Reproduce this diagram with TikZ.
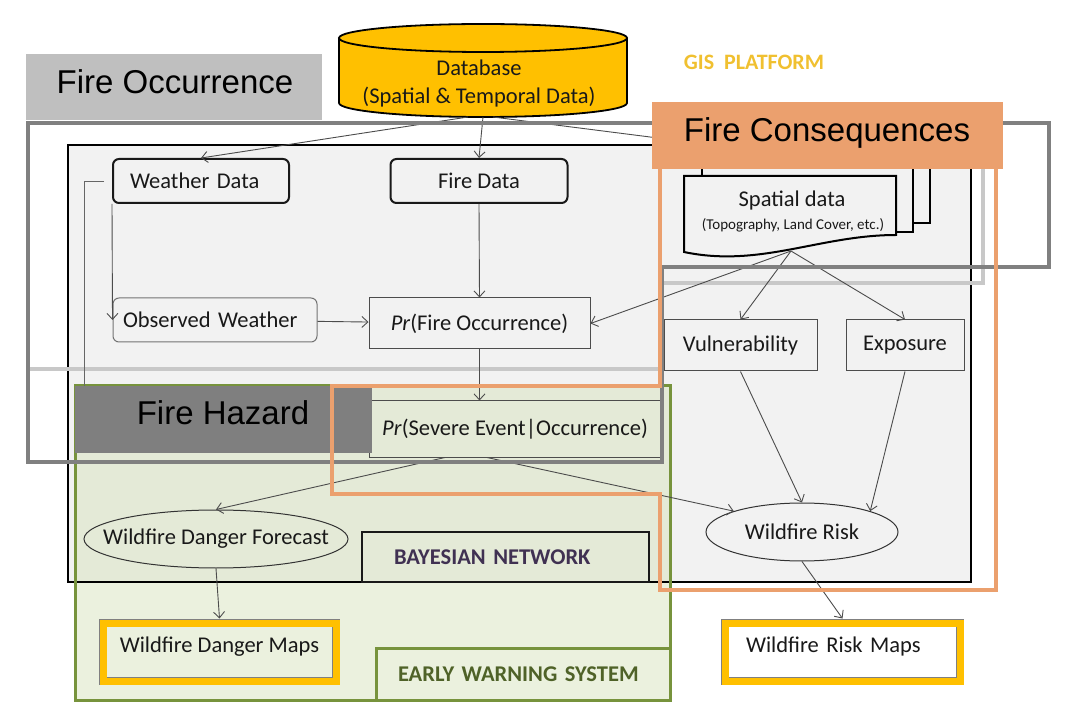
\documentclass[tikz,border=0pt]{standalone}
\usepackage{fontspec}
\setmainfont{Carlito}
\newfontfamily\headfont{Liberation Sans}
\usetikzlibrary{shapes.geometric,arrows.meta}

\definecolor{gold}{HTML}{FFC000}
\definecolor{gistext}{HTML}{F0C030}
\definecolor{occgray}{HTML}{BFBFBF}
\definecolor{hazgray}{HTML}{7F7F7F}
\definecolor{consorange}{HTML}{EBA06E}
\definecolor{occframe}{HTML}{808080}
\definecolor{lightframe}{HTML}{C8C8C8}
\definecolor{ewsgreen}{HTML}{77933C}
\definecolor{ewsfill}{HTML}{D7E4BD}
\definecolor{bnfill}{HTML}{F2F2F2}
\definecolor{ewstext}{HTML}{4F6228}
\definecolor{bntext}{HTML}{403152}

\begin{document}
\begin{tikzpicture}[x=1pt,y=-1pt,
  every node/.style={font=\fontsize{22.5}{27}\selectfont, text=black!90},
  rbox/.style={draw=black!90, line width=2pt, rounded corners=6pt, fill=bnfill, minimum height=44pt},
  obox/.style={draw=black!55, line width=1pt, rounded corners=6pt, fill=bnfill, minimum height=44pt},
  pbox/.style={draw=black!70, line width=1pt, fill=bnfill, minimum height=51pt},
  ebox/.style={draw=black!80, line width=1pt, ellipse, inner ysep=0pt},
  mapbox/.style={draw=black!50, line width=0.8pt, double=gold, double distance=7pt, outer sep=4.5pt, minimum height=58pt, text height=16pt, text depth=15pt},
  tagbox/.style={font=\bfseries\fontsize{22.5}{26}\selectfont, align=left, minimum height=50pt},
  head/.style={font=\headfont\fontsize{33}{38}\selectfont, text=black, text height=23.5pt, text depth=6.5pt},
  page/.style={fill=bnfill, draw=black, line width=2pt},
  edge/.style={draw=black!70, line width=0.9pt, -{Straight Barb[length=6pt,width=11pt]}},
]
\useasboundingbox (0,0) rectangle (1069,711);

% bayesian network and early warning areas
\fill[bnfill] (68,145) rectangle (971,582);
\fill[ewsfill, fill opacity=0.5] (75,386) rectangle (670,700);
\draw[line width=1.5pt] (68,145) rectangle (971,582);
\draw[ewsgreen, line width=3pt] (75,386) rectangle (670,700);
\node[tagbox, draw=black!90, line width=1.5pt, text=bntext, text width=223pt, inner xsep=32pt] (bn) at (505.5,557) {BAYESIAN NETWORK};
\node[tagbox, draw=ewsgreen, line width=3pt, text=ewstext, text width=250pt, inner xsep=22pt, minimum height=52pt] (ews) at (523,674) {EARLY WARNING SYSTEM};

% light gray frame
\draw[lightframe, line width=3.5pt] (28,123) -- (983,123) -- (983,283) -- (660,283) -- (660,369) -- (28,369) -- cycle;

% database
\filldraw[fill=gold, line width=1.8pt] (339,38) -- (339,103) arc[start angle=180, end angle=0, x radius=144, y radius=14] -- (627,38);
\filldraw[fill=gold, line width=1.8pt] (483,38) ellipse[x radius=144, y radius=14];
\node[align=center, font=\fontsize{22.5}{28}\selectfont] (db) at (479,84) {Database\\(Spatial \& Temporal Data)};
\coordinate (dbout) at (483,117);

% spatial data pages
\draw[page] (720,140) rectangle (930,223);
\draw[page] (702,150) rectangle (913,232);
\draw[page] (684,176) -- (896,176) -- (896,235) .. controls (820,235) and (760,268) .. (684,252) -- cycle;
\node (sd) at (792,201) {Spatial data};
\node[font=\fontsize{15}{18}\selectfont] (sdnote) at (793,225) {(Topography, Land Cover, etc.)};
\coordinate (sdout) at (791,251);
\coordinate (sdtop) at (760,151);

% nodes
\node[rbox, text width=142pt, inner xsep=17pt] (wd) at (201,181) {Weather Data};
\node[rbox, minimum width=177pt] (fd) at (479,181) {Fire Data};
\node[obox, text width=184pt, inner xsep=10pt] (ow) at (215,320) {Observed Weather};
\node[pbox, minimum width=221pt] (pf) at (479.5,323.5) {\textit{Pr}(Fire Occurrence)};
\node[pbox, fill=none, minimum width=292pt, minimum height=56pt] (ps) at (515,429) {\textit{Pr}(Severe Event|Occurrence)};
\node[pbox, minimum width=153pt] (vul) at (740.5,345.5) {Vulnerability};
\node[pbox, minimum width=118pt] (exp) at (905,345.5) {Exposure};
\node[ebox, inner xsep=-25pt, minimum width=264pt, minimum height=58pt] (wdf) at (216,539) {Wildfire Danger Forecast};
\node[ebox, fill=bnfill, minimum width=192pt, minimum height=58pt] (wr) at (802,532) {Wildfire Risk};
\node[mapbox, minimum width=233pt] (wdm) at (219.5,652) {Wildfire Danger Maps};
\node[mapbox, fill=white, text width=193pt, inner xsep=21pt] (wrm) at (842.5,652) {Wildfire Risk Maps};
\coordinate (wdside) at (84,400);

% edges
\draw[edge] ([xshift=-15pt]dbout) -- (wd.north);
\draw[edge] (dbout) -- (fd.north);
\draw[edge] ([xshift=10pt]dbout) -- (sdtop);
\draw[black!60, line width=0.9pt] ([xshift=-8pt]wd.west) -| (wdside);
\draw[edge] (wd.south west) -- (ow.west);
\draw[edge] (ow) -- (pf);
\draw[edge] (fd.south) -- (pf.north);
\draw[edge] (sdout) -- (pf.east);
\draw[edge] (sdout) -- (vul.north);
\draw[edge] (sdout) -- (exp.north);
\draw[edge] (pf.south) -- (pf.south |- ps.north);
\draw[edge] ([xshift=-70pt]ps.south) -- (wdf.north);
\draw[edge] ([xshift=-28pt]ps.south) -- (wr.163);
\draw[edge] (vul.south) -- (wr.north);
\draw[edge] (exp.south) -- (wr.17);
\draw[edge] (wdf.south) -- (wdm.north);
\draw[edge] (wr.south) -- (wrm.north);

% fire occurrence frame
\draw[occframe, line width=4.5pt] (28,123) -- (1049,123) -- (1049,267) -- (662,267) -- (662,462) -- (28,462) -- cycle;

% labels
\fill[occgray] (26,54) rectangle (322,120);
\node[head] (occ) at (175,85) {Fire Occurrence};
\fill[hazgray] (75,386) rectangle (372,453);
\node[head] (haz) at (223,416) {Fire Hazard};
\draw[consorange, line width=4pt] (660,169) -- (660,386) -- (332,386) -- (332,494) -- (660,494) -- (660,590) -- (996,590) -- (996,169);
\fill[consorange] (652,102) rectangle (1003,169);
\node[head] (cons) at (827,133) {Fire Consequences};
\node[font=\bfseries\fontsize{22}{26}\selectfont, text=gistext] (gis) at (754,62) {GIS\ \ PLATFORM};
\end{tikzpicture}
\end{document}
